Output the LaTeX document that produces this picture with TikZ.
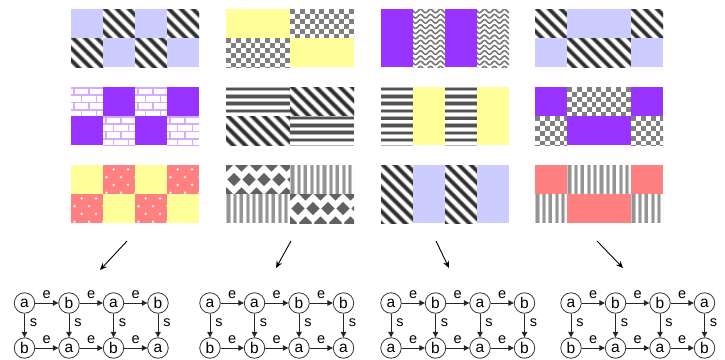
\documentclass[tikz,border=0pt]{standalone}
\usepackage{fontspec}
\setmainfont{Liberation Sans}
\usepackage{tikz}
\usetikzlibrary{arrows.meta, positioning, calc}

\definecolor{tileblue}{RGB}{204,204,255}
\definecolor{tilepurple}{RGB}{153,51,255}
\definecolor{tileyellow}{RGB}{255,255,153}
\definecolor{tilered}{RGB}{255,128,128}
\definecolor{brickmortar}{RGB}{214,170,255}
\definecolor{checkgray}{RGB}{128,128,128}

\tikzset{
    diag_halo/.style={draw=black!45, line width=4.6pt},
    diag_core/.style={draw=black!82, line width=2.8pt},
    check_sq/.style={fill=checkgray},
    wave_line/.style={draw=black!55, line width=1.5pt},
    hs_halo/.style={draw=black!30, line width=4.4pt},
    hs_core/.style={draw=black!68, line width=2.6pt},
    vs_halo/.style={draw=black!22, line width=4.2pt},
    vs_core/.style={draw=black!42, line width=2.4pt},
    diamond_fill/.style={fill=black!62},
    mortar_line/.style={draw=brickmortar, line width=1.8pt},
    dot_fill/.style={fill=white!85!tilered},
    state_node/.style={
        circle, draw=black!80, line width=0.8pt, minimum size=20.5pt, inner sep=0pt,
        font=\fontsize{15.5}{15.5}\selectfont
    },
    edge_arrow/.style={
        -{Triangle[length=5.5pt, width=5.5pt]}, draw=black!85, line width=0.9pt
    },
    edge_lbl/.style={font=\fontsize{14.5}{14.5}\selectfont, inner sep=0pt},
    flow_arrow/.style={
        -{Stealth[length=7pt, width=6pt]}, draw=black, line width=0.9pt
    }
}

% plain coloured cell: x, y, w, h, colour
\newcommand{\plaincell}[5]{\fill[#5] (#1,#2) rectangle ++(#3,#4);}

% diagonal stripes
\newcommand{\diagcell}[4]{%
    \begin{scope}[shift={(#1,#2)}]
        \clip (0,0) rectangle (#3,#4);
        \fill[white] (0,0) rectangle (#3,#4);
        \foreach \t in {-72,-60,...,72} {
            \draw[diag_halo] (\t,-2) -- ++(80,80);
            \draw[diag_core] (\t,-2) -- ++(80,80);
        }
    \end{scope}}

% checkerboard
\newcommand{\checkcell}[4]{%
    \begin{scope}[shift={(#1,#2)}]
        \clip (0,0) rectangle (#3,#4);
        \fill[white] (0,0) rectangle (#3,#4);
        \foreach \j in {0,...,6}
            \foreach \i in {0,...,7}
                \fill[check_sq] ({(2*\i+mod(\j,2))*4.9},{\j*4.9}) rectangle ++(4.9,4.9);
    \end{scope}}

% wavy lines
\newcommand{\wavecell}[4]{%
    \begin{scope}[shift={(#1,#2)}]
        \clip (0,0) rectangle (#3,#4);
        \fill[white] (0,0) rectangle (#3,#4);
        \foreach \j in {0,...,12}
            \draw[wave_line] plot[domain=-2:36, samples=50, smooth] (\x,{\j*5.2+2+1.8*sin(\x*36)});
    \end{scope}}

% horizontal stripes
\newcommand{\hstripecell}[4]{%
    \begin{scope}[shift={(#1,#2)}]
        \clip (0,0) rectangle (#3,#4);
        \fill[white] (0,0) rectangle (#3,#4);
        \foreach \j in {0,...,8} {
            \draw[hs_halo] (0,{\j*7.3+2}) -- (#3,{\j*7.3+2});
            \draw[hs_core] (0,{\j*7.3+2}) -- (#3,{\j*7.3+2});
        }
    \end{scope}}

% vertical stripes
\newcommand{\vstripecell}[4]{%
    \begin{scope}[shift={(#1,#2)}]
        \clip (0,0) rectangle (#3,#4);
        \fill[white] (0,0) rectangle (#3,#4);
        \foreach \i in {0,...,10} {
            \draw[vs_halo] ({\i*6.4+2.5},0) -- ({\i*6.4+2.5},#4);
            \draw[vs_core] ({\i*6.4+2.5},0) -- ({\i*6.4+2.5},#4);
        }
    \end{scope}}

% diamonds
\newcommand{\diamondcell}[4]{%
    \begin{scope}[shift={(#1,#2)}]
        \clip (0,0) rectangle (#3,#4);
        \fill[white] (0,0) rectangle (#3,#4);
        \foreach \i in {-1,...,5} {
            \fill[diamond_fill] ({15*\i+8},14.5) +(-6.6,0) -- +(0,-6.6) -- +(6.6,0) -- +(0,6.6) -- cycle;
            \fill[diamond_fill] ({15*\i+0.5},0) +(-6.6,0) -- +(0,-6.6) -- +(6.6,0) -- +(0,6.6) -- cycle;
            \fill[diamond_fill] ({15*\i+0.5},29) +(-6.6,0) -- +(0,-6.6) -- +(6.6,0) -- +(0,6.6) -- cycle;
        }
    \end{scope}}

% bricks
\newcommand{\brickcell}[4]{%
    \begin{scope}[shift={(#1,#2)}]
        \clip (0,0) rectangle (#3,#4);
        \fill[white] (0,0) rectangle (#3,#4);
        \foreach \r in {0,...,4} {
            \draw[mortar_line] (0,{\r*7.25+1}) -- (#3,{\r*7.25+1});
            \foreach \k in {0,...,2}
                \draw[mortar_line] ({15*\k+mod(\r,2)*7.5+3},{\r*7.25+1}) -- ++(0,7.25);
        }
    \end{scope}}

% dotted red
\newcommand{\dotcell}[4]{%
    \begin{scope}[shift={(#1,#2)}]
        \clip (0,0) rectangle (#3,#4);
        \fill[tilered] (0,0) rectangle (#3,#4);
        \foreach \r in {0,...,3}
            \foreach \k in {-1,...,2}
                \fill[dot_fill] ({14.4*\k+10.7-mod(\r,2)*7.2},{4.3+7.8*\r}) circle (1.4);
    \end{scope}}

% state graph: id, x of first node, list of index/top/bottom
\newcommand{\stategraph}[3]{%
    \foreach \i/\uplbl/\lowlbl in {#3} {
        \node[state_node] (g#1t\i) at ({#2+44.5*(\i-1)},303) {\uplbl};
        \node[state_node] (g#1b\i) at ({#2+44.5*(\i-1)},348) {\lowlbl};
        \draw[edge_arrow] (g#1t\i) -- node[edge_lbl, right=5pt, pos=0.4] {s} (g#1b\i);
    }
    \foreach \i [evaluate=\i as \j using int(\i+1)] in {1,2,3} {
        \draw[edge_arrow] (g#1t\i) -- node[edge_lbl, above=4pt] {e} (g#1t\j);
        \draw[edge_arrow] (g#1b\i) -- node[edge_lbl, above=4pt] {e} (g#1b\j);
    }}

\begin{document}
\begin{tikzpicture}[x=1pt, y=-1pt]

    \useasboundingbox (0,0) rectangle (725,359);

    % --- Column 1 ---
    \foreach \c in {71,135} {
        \plaincell{\c}{9}{32}{29}{tileblue}
        \diagcell{\c+32}{9}{32}{29}
        \diagcell{\c}{38}{32}{29}
        \plaincell{\c+32}{38}{32}{29}{tileblue}
        \brickcell{\c}{87}{32}{29}
        \plaincell{\c+32}{87}{32}{29}{tilepurple}
        \plaincell{\c}{116}{32}{29}{tilepurple}
        \brickcell{\c+32}{116}{32}{29}
        \plaincell{\c}{165}{32}{29}{tileyellow}
        \dotcell{\c+32}{165}{32}{29}
        \dotcell{\c}{194}{32}{29}
        \plaincell{\c+32}{194}{32}{29}{tileyellow}
    }

    % --- Column 2 ---
    \plaincell{226}{9}{64}{29}{tileyellow}
    \checkcell{290}{9}{64}{29}
    \checkcell{226}{38}{64}{29}
    \plaincell{290}{38}{64}{29}{tileyellow}
    \hstripecell{226}{87}{64}{29}
    \diagcell{290}{87}{64}{29}
    \diagcell{226}{116}{64}{29}
    \hstripecell{290}{116}{64}{29}
    \diamondcell{226}{165}{64}{29}
    \vstripecell{290}{165}{64}{29}
    \vstripecell{226}{194}{64}{29}
    \diamondcell{290}{194}{64}{29}

    % --- Column 3 ---
    \foreach \c in {381,445} {
        \plaincell{\c}{9}{32}{58}{tilepurple}
        \wavecell{\c+32}{9}{32}{58}
        \hstripecell{\c}{87}{32}{58}
        \plaincell{\c+32}{87}{32}{58}{tileyellow}
        \diagcell{\c}{165}{32}{58}
        \plaincell{\c+32}{165}{32}{58}{tileblue}
    }

    % --- Column 4 ---
    \diagcell{535}{9}{32}{29}
    \plaincell{567}{9}{64}{29}{tileblue}
    \diagcell{631}{9}{32}{29}
    \plaincell{535}{38}{32}{29}{tileblue}
    \diagcell{567}{38}{64}{29}
    \plaincell{631}{38}{32}{29}{tileblue}
    \plaincell{535}{87}{32}{29}{tilepurple}
    \checkcell{567}{87}{64}{29}
    \plaincell{631}{87}{32}{29}{tilepurple}
    \checkcell{535}{116}{32}{29}
    \plaincell{567}{116}{64}{29}{tilepurple}
    \checkcell{631}{116}{32}{29}
    \plaincell{535}{165}{32}{29}{tilered}
    \vstripecell{567}{165}{64}{29}
    \plaincell{631}{165}{32}{29}{tilered}
    \vstripecell{535}{194}{32}{29}
    \plaincell{567}{194}{64}{29}{tilered}
    \vstripecell{631}{194}{32}{29}

    % --- Flow Arrows ---
    \coordinate (grid1_out) at (127,241);  \coordinate (graph1_in) at (100,270);
    \coordinate (grid2_out) at (291,241);  \coordinate (graph2_in) at (276,268);
    \coordinate (grid3_out) at (436,241);  \coordinate (graph3_in) at (449,268);
    \coordinate (grid4_out) at (597,241);  \coordinate (graph4_in) at (623,268);
    \draw[flow_arrow] (grid1_out) -- (graph1_in);
    \draw[flow_arrow] (grid2_out) -- (graph2_in);
    \draw[flow_arrow] (grid3_out) -- (graph3_in);
    \draw[flow_arrow] (grid4_out) -- (graph4_in);

    % --- State Graphs ---
    \stategraph{1}{24.5}{1/a/b, 2/b/a, 3/a/b, 4/b/a}
    \stategraph{2}{210}{1/a/b, 2/a/b, 3/b/a, 4/b/a}
    \stategraph{3}{391}{1/a/a, 2/b/b, 3/a/a, 4/b/b}
    \stategraph{4}{571}{1/a/b, 2/b/a, 3/b/a, 4/a/b}

\end{tikzpicture}
\end{document}
